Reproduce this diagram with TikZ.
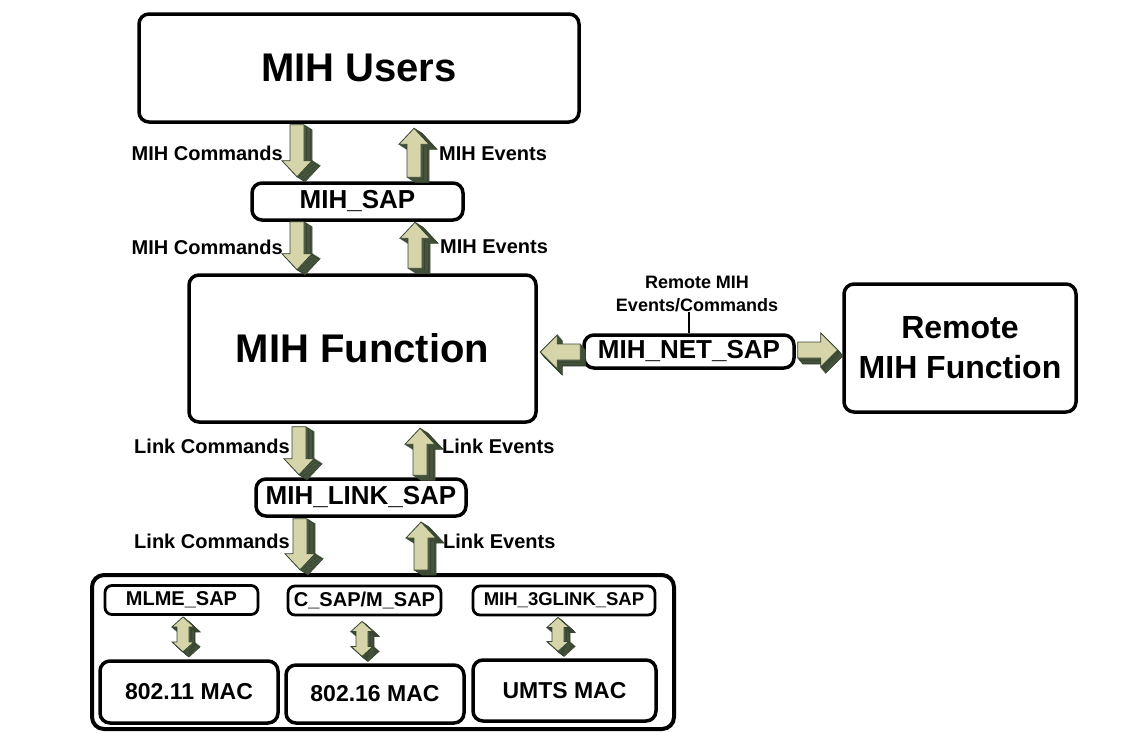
\documentclass[tikz,border=0pt]{standalone}
\usepackage{fontspec}
\setmainfont{Liberation Sans}
\usetikzlibrary{calc}
\definecolor{lite}{RGB}{214,213,170}
\definecolor{darkf}{RGB}{122,127,98}
\definecolor{edgec}{RGB}{55,70,50}
\newcommand\arrshape[1]{(0,-7) -- ({#1-16},-7) -- ({#1-16},-15) -- (#1,0) -- ({#1-16},15) -- ({#1-16},7) -- (0,7) -- cycle}
\newcommand\harrshape[1]{(0,-8) -- ({#1-17},-8) -- ({#1-17},-17) -- (#1,0) -- ({#1-17},17) -- ({#1-17},8) -- (0,8) -- cycle}
\newcommand\dblshape[1]{(0,0) -- (10,-11) -- (10,-6) -- ({#1-10},-6) -- ({#1-10},-11) -- (#1,0) -- ({#1-10},11) -- ({#1-10},6) -- (10,6) -- (10,11) -- cycle}
% #1 start, #2 rotation, #3 length, #4 dx, #5 dy, #6 shape
\newcommand\blockarr[6]{%
  \begin{scope}[shift={#1}]
    \foreach \s in {10,9,...,1}{%
      \filldraw[fill=darkf,draw=edgec,line width=0.7pt,shift={(\s*#4/10,\s*#5/10)},rotate=#2] #6{#3};
    }
    \filldraw[fill=lite,draw=edgec,line width=0.8pt,rotate=#2] #6{#3};
  \end{scope}}
\begin{document}
\begin{tikzpicture}[x=1pt,y=-1pt,
  box/.style={draw=black,line width=3.5pt,rounded corners=10pt,fill=white,inner sep=0pt},
  sbox/.style={draw=black,line width=2.8pt,rounded corners=7pt,fill=white,inner sep=0pt,
     minimum height=29pt,font=\bfseries\fontsize{20}{22}\selectfont},
  mbox/.style={box,font=\bfseries\fontsize{23}{26}\selectfont},
  lbl/.style={font=\bfseries\fontsize{20}{22}\selectfont,inner sep=0pt}]
\useasboundingbox (0,0) rectangle (1145,734);

\node[box,minimum width=440pt,minimum height=108pt,font=\bfseries\fontsize{40}{44}\selectfont] (users) at (359,68) {MIH Users};
\node[box,minimum width=211pt,minimum height=37pt,font=\bfseries\fontsize{26}{28}\selectfont] (mihsap) at (357.5,201.5) {MIH\_SAP};
\node[box,minimum width=347pt,minimum height=147pt,font=\bfseries\fontsize{40}{44}\selectfont] (func) at (362.5,348.5) {MIH Function};
\node[box,minimum width=210pt,minimum height=33pt,font=\bfseries\fontsize{26}{28}\selectfont] (netsap) at (689,351.5) {MIH\_NET\_SAP};
\node[box,minimum width=232pt,minimum height=128pt,align=center,font=\bfseries\fontsize{32}{40}\selectfont] (remote) at (960,348) {Remote\\MIH Function};
\node[box,minimum width=210pt,minimum height=37pt,font=\bfseries\fontsize{26}{28}\selectfont] (linksap) at (361,497.5) {MIH\_LINK\_SAP};
\node[box,line width=4pt,rounded corners=12pt,minimum width=582pt,minimum height=154pt] (cont) at (383,652) {};
\node[sbox,minimum width=153pt] (mlme) at (181.5,600) {MLME\_SAP};
\node[sbox,minimum width=153pt] (csap) at (364.5,600.5) {C\_SAP/M\_SAP};
\node[sbox,minimum width=182pt,font=\bfseries\fontsize{18.5}{20}\selectfont] (g3) at (564,600.5) {MIH\_3GLINK\_SAP};
\node[mbox,minimum width=178pt,minimum height=62pt] (m11) at (189,692) {802.11 MAC};
\node[mbox,minimum width=178pt,minimum height=58pt] (m16) at (375,694) {802.16 MAC};
\node[mbox,minimum width=183pt,minimum height=61pt] (umts) at (564.5,690.5) {UMTS MAC};

\node[lbl,anchor=east] (l1) at (283,153) {MIH Commands};
\node[lbl,anchor=west] (l2) at (439,154) {MIH Events};
\node[lbl,anchor=east] (l3) at (283,247) {MIH Commands};
\node[lbl,anchor=west] (l4) at (440,247) {MIH Events};
\node[lbl,anchor=east] (l5) at (290,446) {Link Commands};
\node[lbl,anchor=west] (l6) at (442,446) {Link Events};
\node[lbl,anchor=east] (l7) at (290,541) {Link Commands};
\node[lbl,anchor=west] (l8) at (443,541) {Link Events};
\node[lbl,align=center,font=\bfseries\fontsize{18}{23}\selectfont] (rtext) at (697,294) {Remote MIH\\Events/Commands};
\draw[line width=1.5pt] (rtext.south -| netsap.north) -- (netsap.north);

% vertical block arrows
\blockarr{($(users.south)+(-62,1)$)}{-90}{52}{8}{5}{\arrshape}
\blockarr{($(mihsap.north)+(56.5,-4)$)}{90}{49}{8}{5}{\arrshape}
\blockarr{($(mihsap.south)+(-60.5,0)$)}{-90}{48}{8}{5}{\arrshape}
\blockarr{($(func.north)+(52.5,-5)$)}{90}{46}{8}{5}{\arrshape}
\blockarr{($(func.south)+(-63.5,3)$)}{-90}{48}{8}{5}{\arrshape}
\blockarr{($(linksap.north)+(59,-2)$)}{90}{47}{8}{5}{\arrshape}
\blockarr{($(linksap.south)+(-61,1)$)}{-90}{51}{8}{5}{\arrshape}
\blockarr{($(cont.north)+(38,-3)$)}{90}{48}{8}{5}{\arrshape}
% horizontal block arrows
\blockarr{($(netsap.west)+(-2,0.5)$)}{180}{40}{5}{6}{\harrshape}
\blockarr{($(netsap.east)+(2,-1.5)$)}{0}{40}{5}{6}{\harrshape}
% double arrows
\blockarr{($(mlme.south)+(1.5,1)$)}{-90}{35}{6}{5}{\dblshape}
\blockarr{($(csap.south)+(-2.5,5)$)}{-90}{35}{6}{5}{\dblshape}
\blockarr{($(g3.south)+(-6,1)$)}{-90}{34}{6}{5}{\dblshape}
\end{tikzpicture}
\end{document}
